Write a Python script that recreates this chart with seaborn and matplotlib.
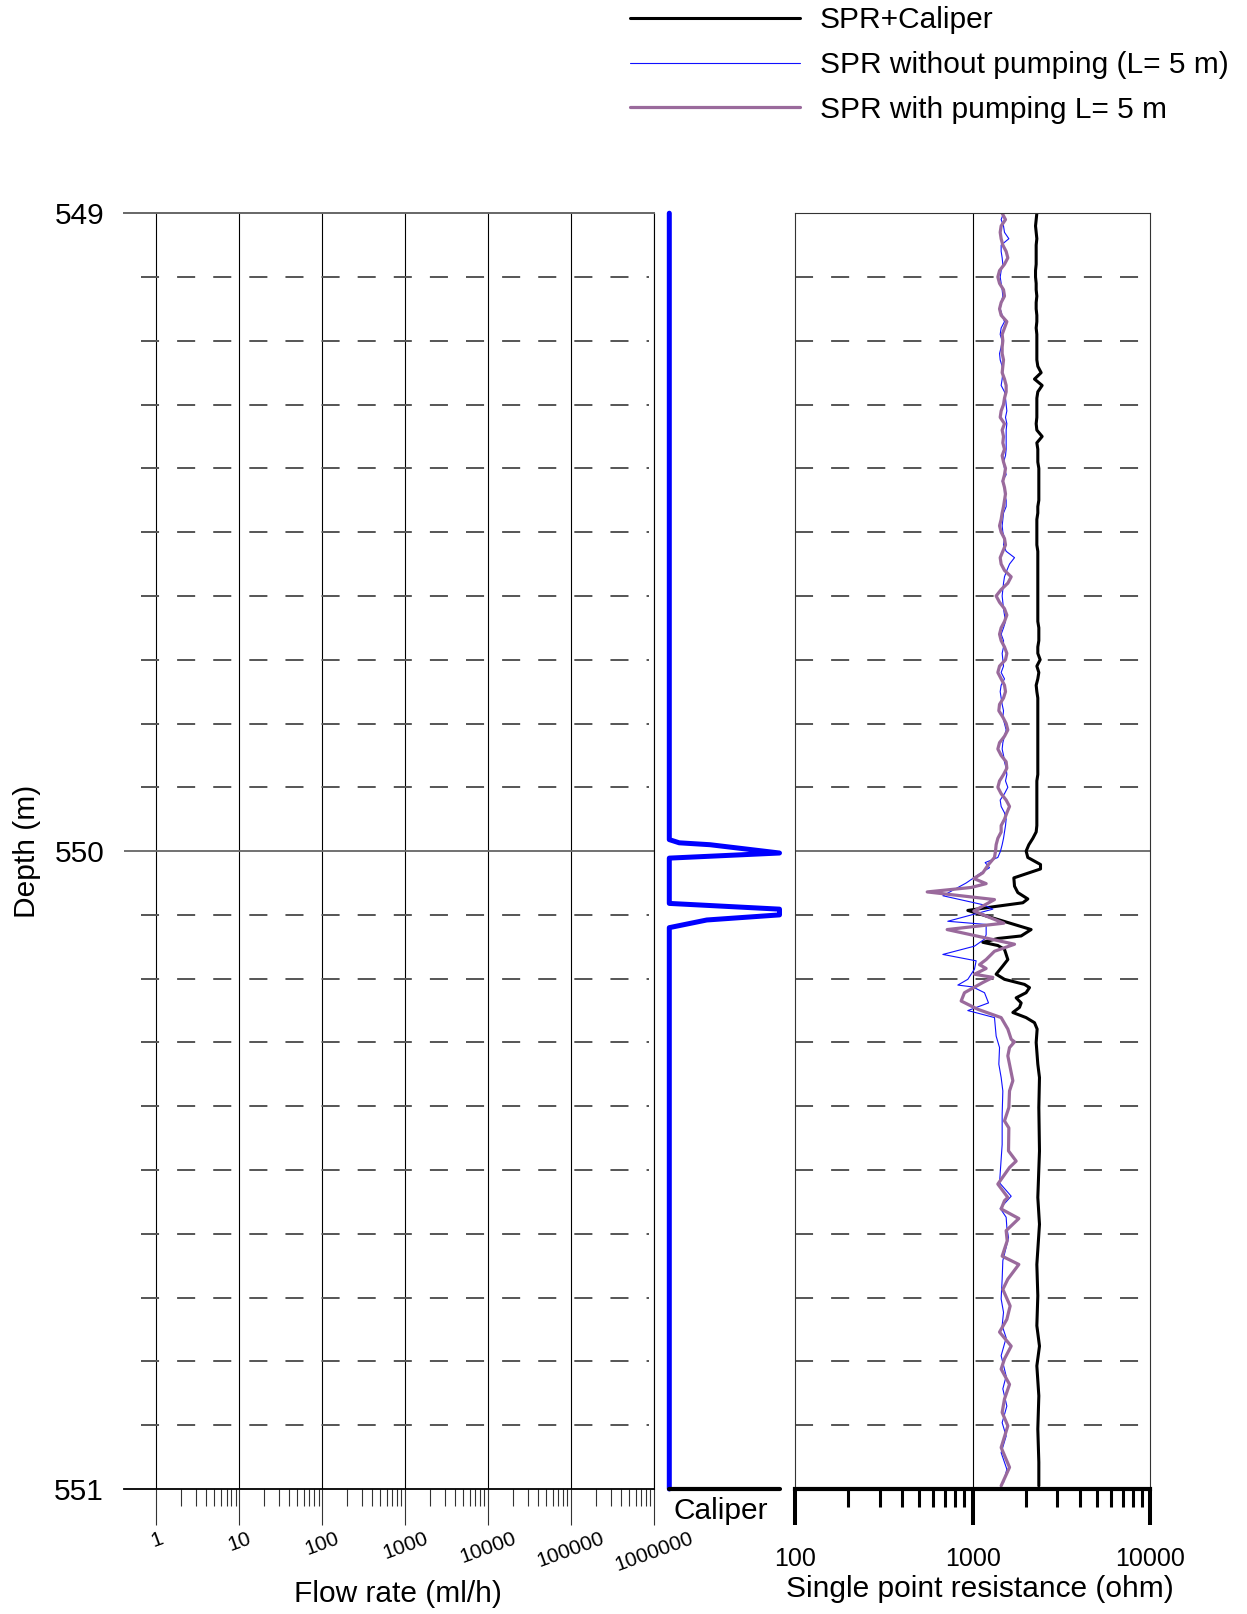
import numpy as np
import pandas as pd
import matplotlib
matplotlib.use("Agg")
import matplotlib.pyplot as plt
from matplotlib.ticker import FixedLocator, FixedFormatter, NullFormatter
import seaborn as sns

# ---------------- data ----------------
# upper interval 549.00-550.00 m sampled every 0.01 m
depth_upper = np.round(np.arange(549.00, 550.001, 0.01), 2)

spr_pump_upper = [1467, 1532, 1448, 1430, 1448, 1480, 1545, 1579, 1512, 1418,
                  1387, 1418, 1493, 1512, 1448, 1418, 1448, 1559, 1512, 1467,
                  1480, 1467, 1467, 1493, 1480, 1467, 1512, 1545, 1545, 1512,
                  1493, 1448, 1430, 1512, 1467, 1493, 1480, 1512, 1467, 1493,
                  1532, 1512, 1480, 1512, 1532, 1512, 1493, 1467, 1448, 1418,
                  1448, 1512, 1532, 1480, 1430, 1448, 1512, 1649, 1579, 1448,
                  1357, 1418, 1512, 1559, 1512, 1448, 1418, 1448, 1512, 1559,
                  1532, 1418, 1387, 1448, 1512, 1532, 1493, 1418, 1405, 1480,
                  1545, 1579, 1512, 1418, 1387, 1448, 1545, 1559, 1493, 1418,
                  1387, 1448, 1545, 1614, 1559, 1512, 1448, 1448, 1387, 1357,
                  1346]

spr_nopump_upper = [1493, 1448, 1493, 1512, 1600, 1448, 1448, 1467, 1480, 1448,
                    1430, 1448, 1467, 1480, 1448, 1430, 1467, 1512, 1448, 1430,
                    1467, 1448, 1418, 1430, 1467, 1480, 1467, 1448, 1512, 1532,
                    1545, 1559, 1532, 1559, 1545, 1545, 1545, 1545, 1532, 1493,
                    1512, 1545, 1467, 1512, 1512, 1545, 1545, 1493, 1480, 1467,
                    1480, 1512, 1493, 1545, 1722, 1614, 1559, 1512, 1493, 1480,
                    1467, 1480, 1493, 1512, 1532, 1493, 1448, 1493, 1493, 1467,
                    1480, 1493, 1448, 1512, 1448, 1430, 1448, 1467, 1493, 1480,
                    1512, 1545, 1512, 1480, 1467, 1493, 1512, 1545, 1559, 1532,
                    1579, 1512, 1430, 1448, 1512, 1545, 1532, 1512, 1493, 1467,
                    1436]

spr_cal_upper = [2300, 2280, 2261, 2280, 2300, 2280, 2280, 2280, 2280, 2261,
                 2261, 2280, 2280, 2300, 2280, 2280, 2300, 2300, 2280, 2300,
                 2300, 2300, 2300, 2300, 2329, 2432, 2231, 2464, 2329, 2300,
                 2300, 2300, 2300, 2280, 2300, 2464, 2300, 2329, 2329, 2329,
                 2360, 2360, 2360, 2360, 2360, 2360, 2329, 2329, 2300, 2300,
                 2300, 2300, 2300, 2329, 2329, 2329, 2329, 2329, 2329, 2329,
                 2329, 2329, 2329, 2329, 2329, 2360, 2360, 2360, 2329, 2329,
                 2401, 2300, 2360, 2329, 2280, 2300, 2329, 2329, 2329, 2329,
                 2329, 2329, 2329, 2329, 2329, 2329, 2329, 2329, 2329, 2300,
                 2300, 2300, 2300, 2300, 2300, 2300, 2300, 2280, 2184, 2073,
                 2002]

# lower interval 550.00-551.00 m, digitised vertices
depth_cal_lower = [550.010, 550.021, 550.028, 550.042, 550.055, 550.065, 550.075, 550.081,
                   550.087, 550.093, 550.123, 550.133, 550.137, 550.143, 550.148, 550.154,
                   550.170, 550.180, 550.193, 550.201, 550.209, 550.214, 550.222, 550.230,
                   550.238, 550.245, 550.253, 550.261, 550.269, 550.279, 550.300, 550.334,
                   550.355, 550.402, 550.470, 550.543, 550.585, 550.648, 550.697, 550.744,
                   550.776, 550.807, 550.854, 550.906, 550.958, 550.995]
spr_cal_lower = [2046, 2412, 2412, 1707, 1722, 1797, 2046, 1918,
                 1328, 940, 2136, 1877, 1387, 1142, 1387, 1512,
                 1579, 1480, 1357, 1512, 1960, 2091, 2000, 1759,
                 1877, 1837, 1685, 2000, 2231, 2309, 2280, 2329,
                 2380, 2360, 2380, 2329, 2380, 2300, 2329, 2300,
                 2380, 2300, 2360, 2329, 2360, 2360]

depth_pump_lower = [550.010, 550.021, 550.034, 550.043, 550.051, 550.057, 550.064, 550.076,
                    550.094, 550.113, 550.123, 550.146, 550.157, 550.170, 550.178, 550.184,
                    550.193, 550.198, 550.206, 550.222, 550.235, 550.248, 550.261, 550.279,
                    550.295, 550.299, 550.308, 550.321, 550.334, 550.360, 550.376, 550.402,
                    550.423, 550.434, 550.470, 550.486, 550.496, 550.522, 550.543, 550.548,
                    550.561, 550.576, 550.595, 550.611, 550.635, 550.648, 550.671, 550.687,
                    550.713, 550.734, 550.754, 550.776, 550.796, 550.812, 550.836, 550.859,
                    550.880, 550.901, 550.935, 550.966, 550.995]
spr_pump_lower = [1328, 1229, 1142, 1016, 1192, 982, 555, 1328,
                  1016, 1499, 719, 1722, 1328, 1192, 1093, 1192,
                  1025, 1300, 1142, 900, 862, 1070, 1448, 1579,
                  1649, 1722, 1614, 1579, 1614, 1685, 1614, 1600,
                  1512, 1600, 1593, 1759, 1614, 1387, 1579, 1512,
                  1448, 1821, 1545, 1566, 1467, 1821, 1579, 1480,
                  1627, 1559, 1418, 1649, 1512, 1448, 1614, 1512,
                  1467, 1579, 1448, 1614, 1448]

depth_nopump_lower = [550.010, 550.018, 550.026, 550.034, 550.050, 550.070, 550.084, 550.091,
                      550.110, 550.115, 550.131, 550.138, 550.149, 550.162, 550.172, 550.185,
                      550.201, 550.210, 550.213, 550.222, 550.238, 550.250, 550.252, 550.261,
                      550.290, 550.308, 550.334, 550.355, 550.376, 550.413, 550.460, 550.507,
                      550.520, 550.541, 550.560, 550.574, 550.590, 550.606, 550.621, 550.642,
                      550.671, 550.702, 550.723, 550.744, 550.763, 550.791, 550.823, 550.843,
                      550.870, 550.896, 550.917, 550.943, 550.969, 550.990]
spr_nopump_lower = [1387, 1177, 1245, 1117, 920, 680, 1142, 1300,
                    725, 1192, 1192, 1167, 1025, 680, 1047, 1025,
                    940, 826, 1003, 1167, 1229, 940, 1003, 1328,
                    1357, 1418, 1405, 1448, 1480, 1467, 1467, 1430,
                    1418, 1649, 1430, 1545, 1559, 1593, 1545, 1480,
                    1467, 1448, 1493, 1467, 1545, 1448, 1545, 1480,
                    1559, 1467, 1545, 1448, 1559, 1493]

# caliper (relative deflection, 0 = baseline, 1 = full scale)
caliper_depth = [549.000, 549.982, 549.987, 549.990, 550.003, 550.011, 550.082,
                 550.091, 550.100, 550.108, 550.120, 551.000]
caliper_rel = [0.0, 0.0, 0.09, 0.37, 1.0, 0.0, 0.0,
               1.0, 1.0, 0.34, 0.0, 0.0]

flow_ticks = [1, 10, 100, 1000, 10000, 100000, 1000000]
flow_tick_labels = ["1", "10", "100", "1000", "10000", "100000", "1000000"]
spr_ticks = [100, 1000, 10000]
spr_tick_labels = ["100", "1000", "10000"]
depth_ticks = [549, 550, 551]
depth_tick_labels = ["549", "550", "551"]
dash_depths = [549.1, 549.2, 549.3, 549.4, 549.5, 549.6, 549.7, 549.8, 549.9,
               550.1, 550.2, 550.3, 550.4, 550.5, 550.6, 550.7, 550.8, 550.9]
legend_labels = ["SPR+Caliper", "SPR without pumping (L= 5 m)", "SPR with pumping L= 5 m"]

# ---------------- assemble ----------------
spr_cal = pd.DataFrame({"depth": np.concatenate([depth_upper, depth_cal_lower]),
                        "ohm": spr_cal_upper + spr_cal_lower})
spr_nopump = pd.DataFrame({"depth": np.concatenate([depth_upper, depth_nopump_lower]),
                           "ohm": spr_nopump_upper + spr_nopump_lower})
spr_pump = pd.DataFrame({"depth": np.concatenate([depth_upper, depth_pump_lower]),
                         "ohm": spr_pump_upper + spr_pump_lower})
cal = pd.DataFrame({"depth": caliper_depth, "rel": caliper_rel})

# ---------------- style ----------------
sns.set_style("white")
plt.rcParams["font.family"] = ["Liberation Sans", "DejaVu Sans"]
plt.rcParams["lines.scale_dashes"] = False
plt.rcParams["xtick.bottom"] = True
plt.rcParams["text.color"] = "black"
plt.rcParams["axes.labelcolor"] = "black"
plt.rcParams["xtick.color"] = "black"
plt.rcParams["ytick.color"] = "black"

FS = 21.5
PURPLE = "#9a6a9c"
GREY = "#555555"

fig = plt.figure(figsize=(12.47, 16.14), dpi=100)
W, H = 1247.0, 1614.0
bottom = 1 - 1489.0 / H
height = (1489.0 - 213.2) / H
ax_flow = fig.add_axes([123.6 / W, bottom, (653.9 - 123.6) / W, height])
ax_cal = fig.add_axes([669.3 / W, bottom, (779.5 - 669.3) / W, height])
ax_spr = fig.add_axes([795.0 / W, bottom, (1150.2 - 795.0) / W, height])

for ax in (ax_flow, ax_cal, ax_spr):
    ax.set_ylim(551, 549)
    ax.patch.set_alpha(0)

# ---- flow rate panel ----
ax_flow.set_xscale("log")
ax_flow.set_xlim(0.401, 1e6)
ax_flow.xaxis.set_major_locator(FixedLocator(flow_ticks))
ax_flow.xaxis.set_major_formatter(FixedFormatter(flow_tick_labels))
minor = [k * 10 ** e for e in range(0, 6) for k in range(2, 10)]
ax_flow.xaxis.set_minor_locator(FixedLocator(minor))
ax_flow.xaxis.set_minor_formatter(NullFormatter())
ax_flow.tick_params(axis="x", which="major", bottom=True, direction="out", length=26,
                    width=0.8, color="#333333", labelcolor="black", labelsize=15,
                    labelrotation=20, pad=3)
ax_flow.tick_params(axis="x", which="minor", bottom=True, direction="out", length=12,
                    width=0.8, color="#333333")
ax_flow.grid(False)
for v in flow_ticks:
    ax_flow.axvline(v, color="black", lw=0.8, zorder=1)
ax_flow.set_yticks(depth_ticks)
ax_flow.set_yticklabels(depth_tick_labels)
ax_flow.tick_params(axis="y", which="both", left=True, length=0, pad=14, labelsize=FS,
                    labelcolor="black")
ax_flow.spines["left"].set_visible(False)
ax_flow.spines["top"].set_color("#666666")
ax_flow.spines["top"].set_linewidth(1.4)
ax_flow.spines["bottom"].set_color("black")
ax_flow.spines["bottom"].set_linewidth(1.3)
ax_flow.spines["right"].set_color("black")
ax_flow.spines["right"].set_linewidth(0.8)
ax_flow.axhline(550, color="#666666", lw=1.3, zorder=1)
for d in dash_depths:
    ax_flow.axhline(d, xmin=0.033, xmax=0.99, color=GREY, lw=1.4, dashes=(13, 13), zorder=1)
ax_flow.set_xlabel("Flow rate (ml/h)", fontsize=FS, color="black")
ax_flow.xaxis.set_label_coords(0.518, -0.0823)
ax_flow.xaxis.label.set_va("center")
ax_flow.set_ylabel("Depth (m)", fontsize=FS, color="black")
ax_flow.yaxis.set_label_coords(-0.183, 0.5)
ax_flow.yaxis.label.set_va("center")

# ---- caliper panel ----
ax_cal.set_xlim(0, 1)
sns.lineplot(data=cal, x="rel", y="depth", orient="y", estimator=None, sort=False,
             color="#0000ff", lw=3.6, ax=ax_cal)
for ln in ax_cal.lines:
    ln.set_clip_on(False)
    ln.set_solid_joinstyle("round")
ax_cal.set_ylim(551, 549)
ax_cal.set_xticks([])
ax_cal.set_yticks([])
for s in ("left", "right", "top"):
    ax_cal.spines[s].set_visible(False)
ax_cal.spines["bottom"].set_linewidth(3.0)
ax_cal.spines["bottom"].set_color("black")
ax_cal.spines["bottom"].set_capstyle("round")
ax_cal.set_xlabel("Caliper", fontsize=FS, color="black")
ax_cal.set_ylabel("")
ax_cal.xaxis.set_label_coords(0.47, -0.017)
ax_cal.xaxis.label.set_va("center")

# ---- SPR panel ----
ax_spr.set_xscale("log")
ax_spr.set_xlim(100, 10000)
sns.lineplot(data=spr_cal, x="ohm", y="depth", orient="y", estimator=None, sort=False,
             color="black", lw=2.2, ax=ax_spr)
h_cal = ax_spr.lines[-1]
sns.lineplot(data=spr_nopump, x="ohm", y="depth", orient="y", estimator=None, sort=False,
             color="#1010ff", lw=0.8, ax=ax_spr)
h_nop = ax_spr.lines[-1]
sns.lineplot(data=spr_pump, x="ohm", y="depth", orient="y", estimator=None, sort=False,
             color=PURPLE, lw=2.3, ax=ax_spr)
h_pump = ax_spr.lines[-1]
ax_spr.set_ylim(551, 549)
ax_spr.set_xlim(100, 10000)
ax_spr.xaxis.set_major_locator(FixedLocator(spr_ticks))
ax_spr.xaxis.set_major_formatter(FixedFormatter(spr_tick_labels))
ax_spr.xaxis.set_minor_locator(FixedLocator([200, 300, 400, 500, 600, 700, 800, 900,
                                             2000, 3000, 4000, 5000, 6000, 7000, 8000, 9000]))
ax_spr.xaxis.set_minor_formatter(NullFormatter())
ax_spr.tick_params(axis="x", which="major", bottom=True, direction="out", length=26,
                   width=2.9, color="black", labelcolor="black", labelsize=18, pad=16)
ax_spr.tick_params(axis="x", which="minor", bottom=True, direction="out", length=13,
                   width=2.2, color="black")
ax_spr.set_yticks([])
ax_spr.grid(False)
ax_spr.axvline(1000, color="black", lw=0.8, zorder=1)
ax_spr.axhline(550, color="#666666", lw=1.3, zorder=1)
for d in dash_depths:
    ax_spr.axhline(d, color=GREY, lw=1.4, dashes=(13, 13), zorder=1)
for s in ("left", "right", "top"):
    ax_spr.spines[s].set_color("#333333")
    ax_spr.spines[s].set_linewidth(0.8)
ax_spr.spines["bottom"].set_color("black")
ax_spr.spines["bottom"].set_linewidth(3.0)
ax_spr.set_xlabel("Single point resistance (ohm)", fontsize=FS, color="black")
ax_spr.set_ylabel("")
ax_spr.xaxis.set_label_coords(0.521, -0.0784)
ax_spr.xaxis.label.set_va("center")

# ---- legend ----
leg = fig.legend([h_cal, h_nop, h_pump], legend_labels, loc="upper left",
                 bbox_to_anchor=(630.0 / W, 1 - 6.5 / H), bbox_transform=fig.transFigure,
                 frameon=False, fontsize=FS, handlelength=5.7, handletextpad=0.66,
                 labelspacing=0.56, borderaxespad=0, borderpad=0)
for t in leg.get_texts():
    t.set_color("black")

fig.savefig("out.png", dpi=100)
